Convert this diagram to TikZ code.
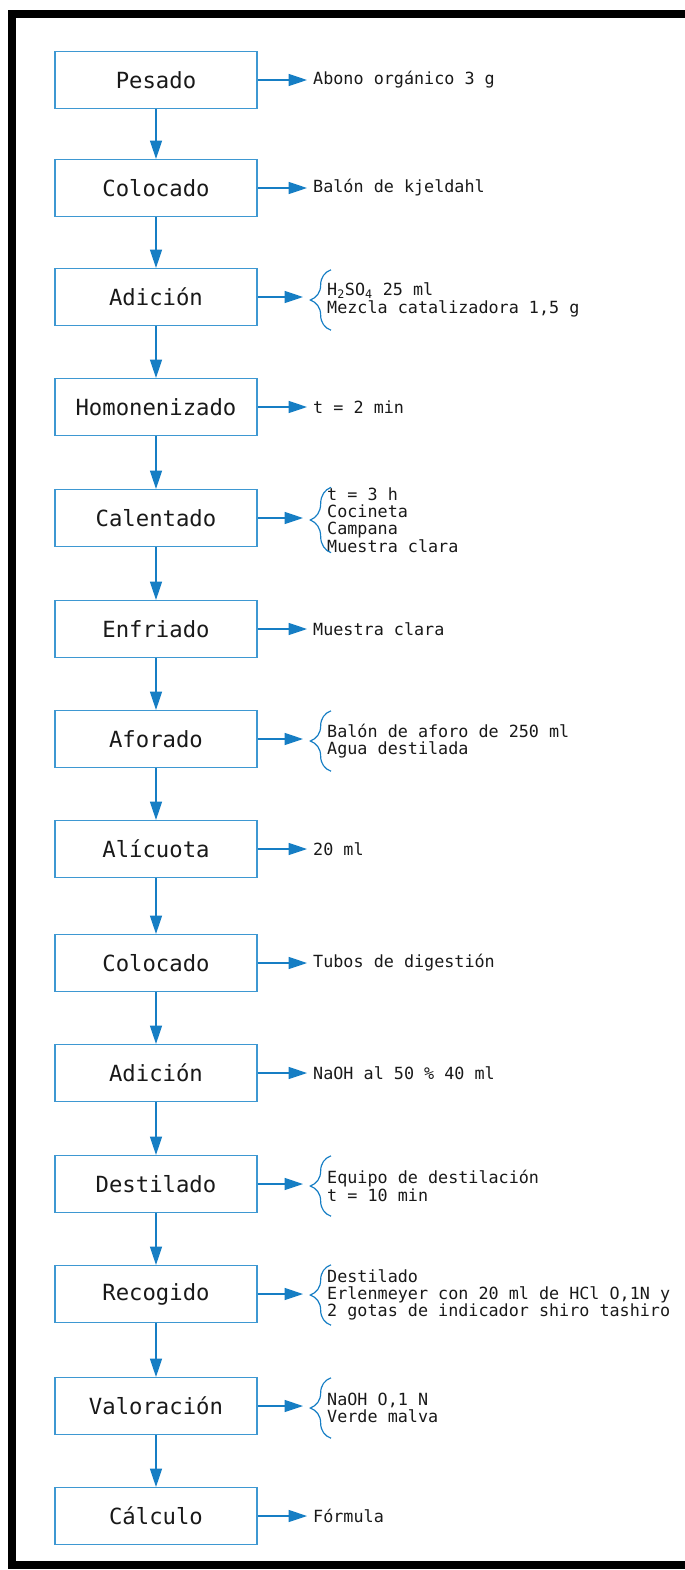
\documentclass[tikz,border=0pt]{standalone}
\usepackage{fontspec}
\setmainfont{DejaVu Sans Mono}
\usetikzlibrary{arrows.meta, decorations.pathreplacing}
\definecolor{flowblue}{RGB}{22,126,196}
\definecolor{boxblue}{RGB}{62,152,210}
\newcommand{\stepfont}{\fontsize{19}{22}\selectfont}
\newcommand{\notefont}{\fontsize{14.3}{14.8}\selectfont}

\begin{document}
\begin{tikzpicture}[x=0.03cm, y=-0.03cm,
  stage/.style={draw=boxblue, line width=0.9pt, minimum width=6.06cm, minimum height=1.71cm, font=\stepfont, text=black!90, inner sep=0pt},
  note/.style={anchor=west, inner xsep=0.18cm, inner ysep=0pt, align=left, font=\notefont, text=black!90},
  bnote/.style={anchor=west, inner sep=0pt, minimum height=1.8cm, align=left, font=\notefont, text=black!90},
  arr/.style={draw=flowblue, line width=1pt, -{Triangle[length=0.55cm, width=0.36cm]}},
  brc/.style={draw=flowblue, line width=1pt, decorate, decoration={brace, amplitude=0.62cm}}
]
  \useasboundingbox (0,0) rectangle (685,1570);
  \clip (0,0) rectangle (685,1570);

  % ----- marco -----
  \draw[line width=0.24cm] (12,14) rectangle (760,1565);

  % ----- etapas -----
  \node[stage] (s1)  at (156,80)   {Pesado};
  \node[stage] (s2)  at (156,188)  {Colocado};
  \node[stage] (s3)  at (156,297)  {Adición};
  \node[stage] (s4)  at (156,407)  {Homonenizado};
  \node[stage] (s5)  at (156,518)  {Calentado};
  \node[stage] (s6)  at (156,629)  {Enfriado};
  \node[stage] (s7)  at (156,739)  {Aforado};
  \node[stage] (s8)  at (156,849)  {Alícuota};
  \node[stage] (s9)  at (156,963)  {Colocado};
  \node[stage] (s10) at (156,1073) {Adición};
  \node[stage] (s11) at (156,1184) {Destilado};
  \node[stage] (s12) at (156,1294) {Recogido};
  \node[stage] (s13) at (156,1406) {Valoración};
  \node[stage] (s14) at (156,1516) {Cálculo};

  % ----- notas simples -----
  \node[note] (l1)  at (307,80)   {Abono orgánico 3 g};
  \node[note] (l2)  at (307,188)  {Balón de kjeldahl};
  \node[note] (l4)  at (307,407)  {t = 2 min};
  \node[note] (l6)  at (307,629)  {Muestra clara};
  \node[note] (l8)  at (307,849)  {20 ml};
  \node[note] (l9)  at (307,963)  {Tubos de digestión};
  \node[note] (l10) at (307,1073) {NaOH al 50 \% 40 ml};
  \node[note] (l14) at (307,1516) {Fórmula};

  % ----- notas con llave -----
  \node[bnote] (l3)  at (327,300)  {H\textsubscript{2}SO\textsubscript{4} 25 ml\\Mezcla catalizadora 1,5 g};
  \node[bnote] (l5)  at (327,520)  {t = 3 h\\Cocineta\\Campana\\Muestra clara};
  \node[bnote] (l7)  at (327,741)  {Balón de aforo de 250 ml\\Agua destilada};
  \node[bnote] (l11) at (327,1186) {Equipo de destilación\\t = 10 min};
  \node[bnote] (l12) at (327,1295) {Destilado\\Erlenmeyer con 20 ml de HCl O,1N y\\2 gotas de indicador shiro tashiro};
  \node[bnote] (l13) at (327,1408) {NaOH O,1 N\\Verde malva};

  \draw[brc] ([xshift=0.12cm]l3.south west)  -- ([xshift=0.12cm]l3.north west);
  \draw[brc] ([xshift=0.12cm]l5.south west)  -- ([xshift=0.12cm]l5.north west);
  \draw[brc] ([xshift=0.12cm]l7.south west)  -- ([xshift=0.12cm]l7.north west);
  \draw[brc] ([xshift=0.12cm]l11.south west) -- ([xshift=0.12cm]l11.north west);
  \draw[brc] ([xshift=0.12cm]l12.south west) -- ([xshift=0.12cm]l12.north west);
  \draw[brc] ([xshift=0.12cm]l13.south west) -- ([xshift=0.12cm]l13.north west);

  \coordinate (b3)  at (303,297);
  \coordinate (b5)  at (303,518);
  \coordinate (b7)  at (303,739);
  \coordinate (b11) at (303,1184);
  \coordinate (b12) at (303,1294);
  \coordinate (b13) at (303,1406);

  % ----- flujo vertical -----
  \draw[arr] (s1) -- (s2);
  \draw[arr] (s2) -- (s3);
  \draw[arr] (s3) -- (s4);
  \draw[arr] (s4) -- (s5);
  \draw[arr] (s5) -- (s6);
  \draw[arr] (s6) -- (s7);
  \draw[arr] (s7) -- (s8);
  \draw[arr] (s8) -- (s9);
  \draw[arr] (s9) -- (s10);
  \draw[arr] (s10) -- (s11);
  \draw[arr] (s11) -- (s12);
  \draw[arr] (s12) -- (s13);
  \draw[arr] (s13) -- (s14);

  % ----- salidas laterales -----
  \draw[arr] (s1.east)  -- (l1.west);
  \draw[arr] (s2.east)  -- (l2.west);
  \draw[arr] (s3.east)  -- (b3);
  \draw[arr] (s4.east)  -- (l4.west);
  \draw[arr] (s5.east)  -- (b5);
  \draw[arr] (s6.east)  -- (l6.west);
  \draw[arr] (s7.east)  -- (b7);
  \draw[arr] (s8.east)  -- (l8.west);
  \draw[arr] (s9.east)  -- (l9.west);
  \draw[arr] (s10.east) -- (l10.west);
  \draw[arr] (s11.east) -- (b11);
  \draw[arr] (s12.east) -- (b12);
  \draw[arr] (s13.east) -- (b13);
  \draw[arr] (s14.east) -- (l14.west);
\end{tikzpicture}
\end{document}
